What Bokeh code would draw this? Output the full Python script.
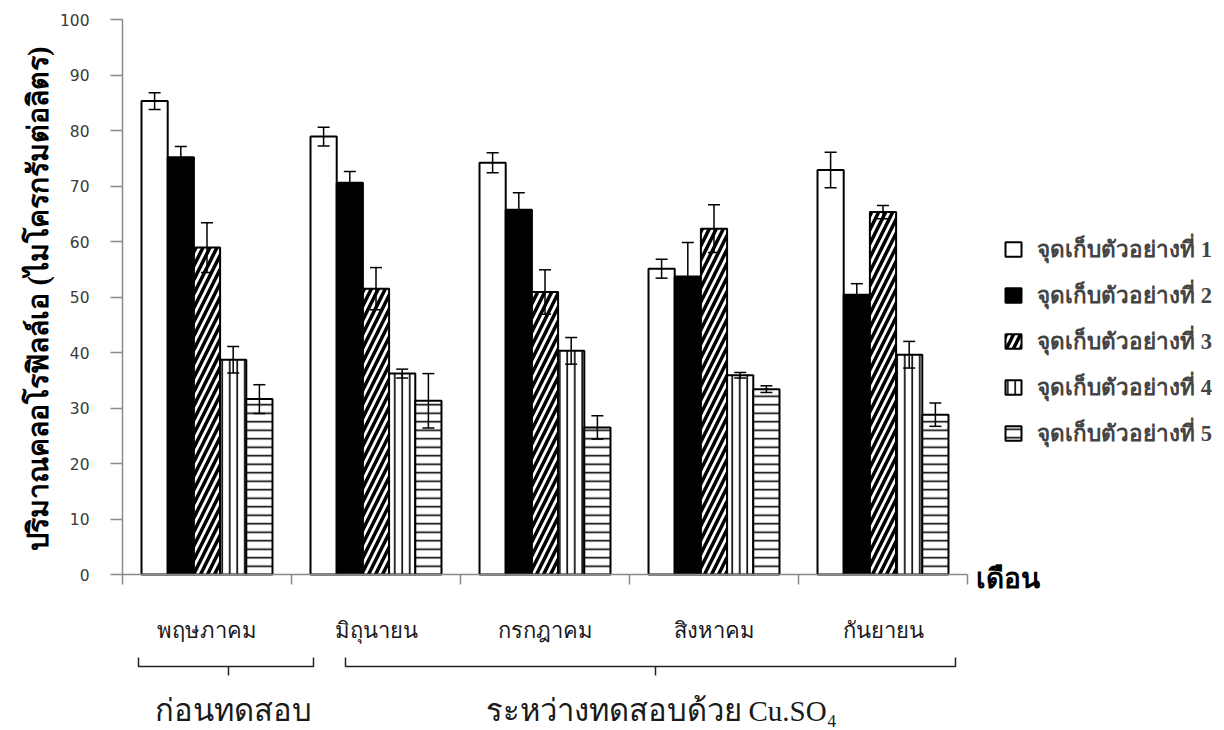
import numpy as np
from bokeh.plotting import figure
from bokeh.models import (Range1d, LinearAxis, FixedTicker, ColumnDataSource, Whisker,
                          TeeHead, Legend, LegendItem)
from bokeh.core.properties import value
from bokeh.embed import file_html
from bokeh.resources import INLINE

# ---------------- data ----------------
months = ["พฤษภาคม", "มิถุนายน", "กรกฎาคม", "สิงหาคม", "กันยายน"]
series_names = ["จุดเก็บตัวอย่างที่ 1", "จุดเก็บตัวอย่างที่ 2", "จุดเก็บตัวอย่างที่ 3",
                "จุดเก็บตัวอย่างที่ 4", "จุดเก็บตัวอย่างที่ 5"]
site1 = [85.3, 78.9, 74.2, 55.1, 72.9]
site1_err = [1.5, 1.7, 1.8, 1.7, 3.2]
site2 = [75.2, 70.6, 65.7, 53.7, 50.4]
site2_err = [1.9, 2.0, 3.1, 6.1, 2.0]
site3 = [58.9, 51.5, 50.9, 62.3, 65.3]
site3_err = [4.5, 3.8, 4.0, 4.3, 1.2]
site4 = [38.7, 36.2, 40.3, 35.9, 39.6]
site4_err = [2.4, 0.8, 2.4, 0.5, 2.4]
site5 = [31.6, 31.3, 26.5, 33.4, 28.8]
site5_err = [2.6, 4.9, 2.1, 0.6, 2.1]
y_ticks = [0, 10, 20, 30, 40, 50, 60, 70, 80, 90, 100]
x_title = "เดือน"
y_title = "ปริมาณคลอโรฟิลล์เอ (ไมโครกรัมต่อลิตร)"
phase1 = "ก่อนทดสอบ"
phase2_thai = "ระหว่างทดสอบด้วย"
phase2_chem = "Cu.SO₄"

values = [site1, site2, site3, site4, site5]
errors = [site1_err, site2_err, site3_err, site4_err, site5_err]

# ---------------- styles / layout ----------------
fills = ["white", "black", "white", "white", "white"]
hatches = [" ", " ", "/", "|", "-"]
hatch_scales = [12, 12, 14, 7.5, 8.5]
hatch_weights = [1, 1, 3.5, 1.6, 1.6]
bar_w = 0.155

THAI = "Noto Sans"
SERIF = "Liberation Serif"

W, H = 1224, 730
X0, Y0 = 122.0, 574.0      # pixel position of data origin
SX, SY = 169.0, 5.55       # pixels per category / per unit

def dx(px):
    return (px - X0) / SX

def dy(py):
    return (Y0 - py) / SY

p = figure(frame_width=W, frame_height=H,
           x_range=Range1d(dx(0), dx(W)), y_range=Range1d(dy(H), dy(0)),
           x_axis_type=None, y_axis_type=None,
           output_backend="svg", toolbar_location=None,
           min_border=0, min_border_left=0, min_border_top=0,
           min_border_right=0, min_border_bottom=0,
           background_fill_color="white", border_fill_color="white")
p.outline_line_color = None

# y axis
yax = LinearAxis(ticker=FixedTicker(ticks=y_ticks), bounds=(0, 100))
yax.fixed_location = 0
yax.axis_line_color = "#8a8a8a"
yax.axis_line_width = 1.5
yax.major_tick_line_color = "#8a8a8a"
yax.major_tick_line_width = 1.5
yax.major_tick_out = 12
yax.major_tick_in = 0
yax.minor_tick_line_color = None
yax.major_label_standoff = 21
yax.major_label_text_font = "DejaVu Sans"
yax.major_label_text_font_size = "15.5px"
yax.major_label_text_color = "#3a3a3a"
p.add_layout(yax, "left")

# x axis (category boundaries)
n = len(months)
xax = LinearAxis(ticker=FixedTicker(ticks=list(range(n + 1))), bounds=(0, n))
xax.fixed_location = 0
xax.axis_line_color = "#8a8a8a"
xax.axis_line_width = 1.5
xax.major_tick_line_color = "#8a8a8a"
xax.major_tick_line_width = 1.5
xax.major_tick_out = 10
xax.major_tick_in = 0
xax.minor_tick_line_color = None
xax.major_label_text_color = None
p.add_layout(xax, "below")

# category label axis
centers = [i + 0.5 for i in range(n)]
cax = LinearAxis(ticker=FixedTicker(ticks=centers),
                 major_label_overrides={c: m for c, m in zip(centers, months)})
cax.fixed_location = 0
cax.axis_line_color = None
cax.major_tick_line_color = None
cax.minor_tick_line_color = None
cax.major_tick_out = 0
cax.major_label_standoff = 39
cax.major_label_text_font = THAI
cax.major_label_text_font_size = "22px"
cax.major_label_text_color = "#1a1a1a"
p.add_layout(cax, "below")

# bars
items = []
for k in range(5):
    xs = [i + 0.5 + (k - 2) * bar_w for i in range(n)]
    src = ColumnDataSource(dict(x=xs, top=values[k],
                                upper=[v + e for v, e in zip(values[k], errors[k])],
                                lower=[v - e for v, e in zip(values[k], errors[k])]))
    r = p.vbar(x="x", top="top", bottom=0, width=bar_w, source=src,
               fill_color=fills[k], line_color="black", line_width=2,
               hatch_pattern=hatches[k], hatch_color="black",
               hatch_scale=hatch_scales[k], hatch_weight=hatch_weights[k])
    w = Whisker(base="x", upper="upper", lower="lower", source=src,
                line_color="black", line_width=1.5, level="overlay",
                upper_head=TeeHead(size=12, line_color="black", line_width=1.5),
                lower_head=TeeHead(size=12, line_color="black", line_width=1.5))
    p.add_layout(w)
    items.append(LegendItem(label=series_names[k], renderers=[r]))

legend = Legend(items=items, location=(1003, H - 451), orientation="vertical",
                glyph_width=20, glyph_height=18, label_height=20, spacing=10,
                padding=0, margin=0, border_line_color=None, background_fill_alpha=0,
                label_text_font=SERIF, label_text_font_style="bold",
                label_text_font_size="22.5px", label_standoff=14)
p.add_layout(legend)

# x title
p.text(x=[dx(975)], y=[dy(578)], text=[x_title], text_font=value(SERIF),
       text_font_style="bold", text_font_size="28px", text_align="left",
       text_baseline="middle", text_color="black")

# brackets
p.multi_line(xs=[[dx(138), dx(138), dx(313), dx(313)], [dx(345), dx(345), dx(955), dx(955)]],
             ys=[[dy(657), dy(666), dy(666), dy(657)], [dy(657), dy(666), dy(666), dy(657)]],
             line_color="#222222", line_width=1.5)
p.segment(x0=[dx(228), dx(655)], y0=[dy(666), dy(666)], x1=[dx(228), dx(655)], y1=[dy(675), dy(675)],
          line_color="#222222", line_width=1.5)

# phase labels
p.text(x=[dx(233)], y=[dy(708)], text=[phase1], text_font=value(THAI), text_font_size="31px",
       text_align="center", text_baseline="middle", text_color="#1a1a1a")
p.text(x=[dx(485)], y=[dy(708)], text=[phase2_thai], text_font=value(THAI), text_font_size="31px",
       text_align="left", text_baseline="middle", text_color="#1a1a1a")
p.text(x=[dx(748)], y=[dy(710)], text=[phase2_chem], text_font=value(SERIF), text_font_size="29px",
       text_align="left", text_baseline="middle", text_color="#1a1a1a")

# y title
p.text(x=[dx(38)], y=[dy(298)], text=[y_title], angle=np.pi / 2,
       text_font=value(SERIF), text_font_style="bold", text_font_size="28.5px",
       text_align="center", text_baseline="middle", text_color="black")

open("out.html", "w").write(file_html(p, INLINE))
